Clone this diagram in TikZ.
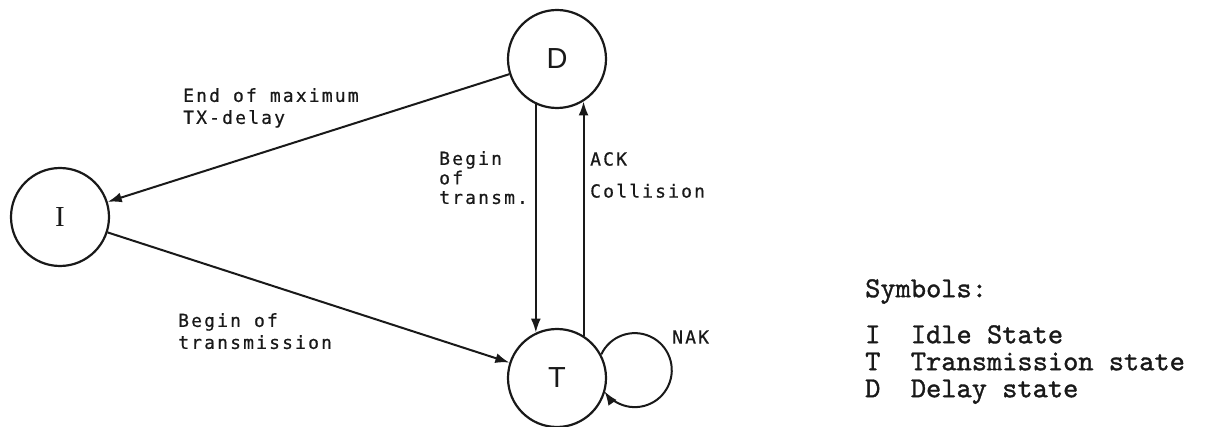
\documentclass[tikz,border=0pt]{standalone}
\usepackage{fontspec}
\usetikzlibrary{arrows.meta}
\newfontfamily\labelfont[LetterSpace=12,FakeBold=0.6]{DejaVu Sans Mono}
\newfontfamily\legendfont[FakeBold=1.2]{lmmono10-regular.otf}
\newfontfamily\statefont{Liberation Sans}
\newfontfamily\idlefont{Liberation Serif}
\definecolor{ink}{gray}{0.1}
\begin{document}
\begin{tikzpicture}[x=1pt,y=1pt,
  state/.style={circle,draw=ink,line width=2.2pt,minimum size=98pt,inner sep=0pt,
                text=ink,font=\statefont\fontsize{29}{30}\selectfont},
  trans/.style={draw=ink,line width=2pt,-{Latex[length=14pt,width=10pt]}},
  lbl/.style={inner sep=0pt,align=left,text=ink}]
\useasboundingbox (0,0) rectangle (1216,426);

% states
\node[state] (I) at (60,209) {\idlefont I};
\node[state] (D) at (557,367) {D};
\node[state] (T) at (557,48) {T};

% transitions
\draw[trans] (D) -- (I);
\draw[trans] (I) -- (T);
\draw[trans] (D.245) -- (T.115);
\draw[trans] (T.58) -- (D.302);
\draw[trans] (T.28) arc[start angle=155,end angle=-145,radius=37];

% transition labels
\node[lbl,anchor=north west,font=\labelfont\fontsize{18}{22}\selectfont] (lmax) at (183,338) {End of maximum\\TX-delay};
\node[lbl,anchor=north west,font=\labelfont\fontsize{18}{19.5}\selectfont] (lbeg) at (439,275) {Begin\\of\\transm.};
\node[lbl,anchor=north west,font=\labelfont\fontsize{18}{20}\selectfont] (lack) at (590,274) {ACK\\[12pt]Collision};
\node[lbl,anchor=north west,font=\labelfont\fontsize{18}{22}\selectfont] (ltx) at (178,113) {Begin of\\transmission};
\node[lbl,anchor=west,font=\labelfont\fontsize{18}{20}\selectfont] (lnak) at (672,89) {NAK};

% legend
\node[lbl,anchor=north west,font=\legendfont\fontsize{29}{27}\selectfont] (legend) at (865,147)
  {Symbols:\\[19pt]I~~Idle State\\T~~Transmission state\\D~~Delay state};
\end{tikzpicture}
\end{document}
